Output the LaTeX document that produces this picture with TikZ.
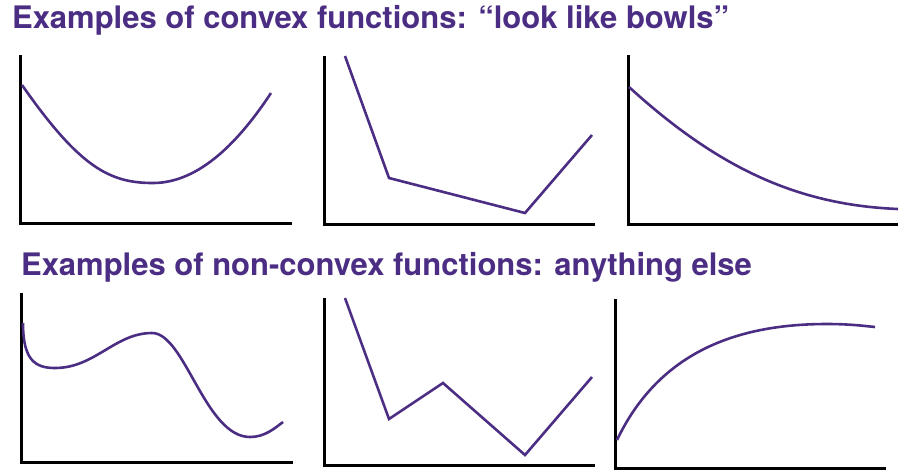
\documentclass[tikz,border=0pt]{standalone}
\usepackage{fontspec}
\setmainfont{TeX Gyre Heros}
\usepackage{xcolor}
\definecolor{huskypurple}{HTML}{4B2E83}

\begin{document}
\begin{tikzpicture}[x=1pt, y=-1pt,
    axisline/.style={black, line width=3pt},
    curveline/.style={huskypurple, line width=2.6pt, line join=miter},
    heading/.style={anchor=base west, inner sep=0pt, text=huskypurple,
                    font=\bfseries\fontsize{31}{35}\selectfont}]
\useasboundingbox (0,0) rectangle (908,475);

% headings
\node[heading] (convexhead) at (12,28) {Examples of convex functions: “look like bowls”};
\node[heading] (nonconvexhead) at (21,275) {Examples of non-convex functions: anything else};

% axes, top row
\draw[axisline] (20,55) |- (292,223);
\draw[axisline] (324,56) |- (595,224);
\draw[axisline] (628,55) |- (898,224);

% axes, bottom row
\draw[axisline] (21,293) |- (293,462);
\draw[axisline] (324,298) |- (595,465);
\draw[axisline] (615,299) |- (886,468);

% convex examples
\draw[curveline] (22,85) .. controls (80,168) and (110,183) .. (153,183)
                 .. controls (200,183) and (240,140) .. (271,93);
\draw[curveline] (345,56) -- (389,178) -- (525,213) -- (592,135);
\draw[curveline] (629,87) .. controls (720,170) and (800,205) .. (898,209);

% non-convex examples
\draw[curveline] (23,323) .. controls (23,360) and (35,368) .. (55,368)
                 .. controls (95,368) and (115,333) .. (152,333)
                 .. controls (185,333) and (205,437) .. (250,437)
                 .. controls (265,437) and (275,428) .. (283,422);
\draw[curveline] (345,298) -- (389,419) -- (443,383) -- (525,455) -- (592,377);
\draw[curveline] (617,440) .. controls (660,350) and (740,324) .. (827,324)
                 .. controls (850,324) and (865,326) .. (875,327);
\end{tikzpicture}
\end{document}
